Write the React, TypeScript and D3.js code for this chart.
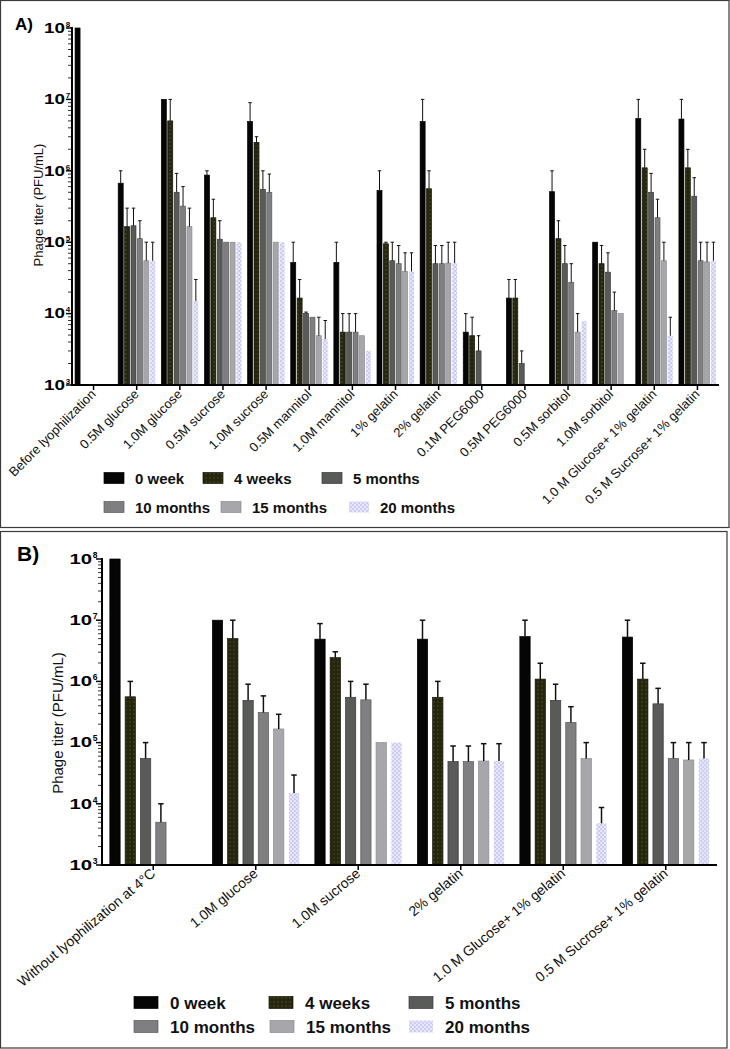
import React from 'react';
import * as d3 from 'd3';

// ---------------- DATA ----------------
const seriesNames = ['0 week', '4 weeks', '5 months', '10 months', '15 months', '20 months'];
const yTickExponents = [3, 4, 5, 6, 7, 8];

const categoriesA = [
  'Before lyophilization', '0.5M glucose', '1.0M glucose', '0.5M sucrose', '1.0M sucrose',
  '0.5M mannitol', '1.0M mannitol', '1% gelatin', '2% gelatin', '0.1M PEG6000', '0.5M PEG6000',
  '0.5M sorbitol', '1.0M sorbitol', '1.0 M Glucose+ 1% gelatin', '0.5 M Sucrose+ 1% gelatin',
];
// series values across categoriesA (PFU/mL); null = no bar
const week0A = [1e8, 6.7e5, 1e7, 8.7e5, 4.9e6, 5.2e4, 5.2e4, 5.3e5, 4.9e6, 5.5e3, 1.65e4, 5.1e5, 1e5, 5.4e6, 5.3e6];
const week4A = [null, 1.65e5, 5e6, 2.2e5, 2.5e6, 1.65e4, 5.5e3, 9.5e4, 5.6e5, 4.9e3, 1.65e4, 1.12e5, 5e4, 1.1e6, 1.1e6];
const month5A = [null, 1.7e5, 5e5, 1.1e5, 5.5e5, 1e4, 5.5e3, 5.5e4, 5e4, 3e3, 2e3, 5e4, 3.8e4, 5e5, 4.4e5];
const month10A = [null, 1.12e5, 3.2e5, 1e5, 5e5, 8.9e3, 5.5e3, 5e4, 5e4, null, null, 2.74e4, 1.1e4, 2.2e5, 5.5e4];
const month15A = [null, 5.5e4, 1.65e5, 1e5, 1e5, 4.9e3, 4.9e3, 3.9e4, 5.1e4, null, null, 5.5e3, 1e4, 5.5e4, 5.3e4];
const month20A = [null, 5.5e4, 1.5e4, 1e5, 1e5, 4.4e3, 3e3, 3.9e4, 5.1e4, null, null, 7.9e3, null, 4.9e3, 5.5e4];
// upper end of error bars
const week0ErrA = [null, 1e6, null, 1e6, 9e6, 1e5, 1e5, 1e6, 1e7, 1e4, 3e4, 1e6, null, 1e7, 1e7];
const week4ErrA = [null, 3e5, 1e7, 4e5, 3e6, 3e4, 1e4, 1e5, 1e6, 8.9e3, 3e4, 2e5, 9e4, 2e6, 2e6];
const month5ErrA = [null, 3e5, 9.2e5, 2e5, 1e6, 1.05e4, 1e4, 1e5, 9e4, 4.9e3, 3e3, 9e4, 7.1e4, 9.2e5, 8e5];
const month10ErrA = [null, 2e5, 6e5, null, 9e5, null, 1e4, 9e4, 9e4, null, null, 5e4, 2e4, 4e5, 1e5];
const month15ErrA = [null, 1e5, 3e5, null, null, 8.9e3, null, 7.1e4, 1e5, null, null, 1e4, null, 1e5, 1e5];
const month20ErrA = [null, 1e5, 3e4, null, null, 8e3, null, 7.1e4, 1e5, null, null, null, null, 8.9e3, 1e5];

const categoriesB = [
  'Without lyophilization at 4°C', '1.0M glucose', '1.0M sucrose', '2% gelatin',
  '1.0 M Glucose+ 1% gelatin', '0.5 M Sucrose+ 1% gelatin',
];
const week0B = [1e8, 1e7, 4.9e6, 4.9e6, 5.4e6, 5.3e6];
const week4B = [5.6e5, 5e6, 2.45e6, 5.5e5, 1.09e6, 1.09e6];
const month5B = [5.5e4, 4.9e5, 5.5e5, 4.9e4, 4.9e5, 4.3e5];
const month10B = [5e3, 3.1e5, 5e5, 4.9e4, 2.14e5, 5.5e4];
const month15B = [null, 1.67e5, 1e5, 5e4, 5.5e4, 5.2e4];
const month20B = [null, 1.5e4, 1e5, 5e4, 4.8e3, 5.5e4];
const week0ErrB = [null, null, 8.8e6, 1e7, 1e7, 1e7];
const week4ErrB = [1e6, 1e7, 3.05e6, 1e6, 1.98e6, 1.98e6];
const month5ErrB = [1e5, 9e5, 1e6, 8.8e4, 9e5, 7.7e5];
const month10ErrB = [1e4, 5.8e5, 9e5, 8.8e4, 3.86e5, 1e5];
const month15ErrB = [null, 2.9e5, null, 9.6e4, 1e5, 1e5];
const month20ErrB = [null, 2.95e4, null, 9.6e4, 8.7e3, 1e5];

// ---------------- STYLE ----------------
const fills = ['#050505', 'url(#pat4w)', '#595b59', '#7f7f81', '#a7a7ab', 'url(#pat20m)'];
const strokes = ['#000', '#141408', '#3b3b3b', '#5c5c5c', '#8d8d91', 'none'];

type Spec = {
  title: string; titleX: number; titleY: number; titleSize: number;
  categories: string[];
  values: (number | null)[][];
  errs: (number | null)[][];
  left: number; right: number; top: number; bottom: number;
  groupWidth: number; padInner: number; padOuter: number;
  capW: number; errW: number;
  labelSize: number; labelAngle: number;
  tickFont: number; tickScale: number; tickGap: number; supSize: number;
  yLabelX: number; yLabelY: number; yLabelSize: number;
  legendRows: number[][]; legendBaselines: number[]; legendBox: [number, number];
  legendTextOff: number; legendFont: number;
  frame: [number, number, number, number];
};

const specA: Spec = {
  title: 'A)', titleX: 15, titleY: 30, titleSize: 17,
  categories: categoriesA,
  values: [week0A, week4A, month5A, month10A, month15A, month20A],
  errs: [week0ErrA, week4ErrA, month5ErrA, month10ErrA, month15ErrA, month20ErrA],
  left: 72, right: 719, top: 28, bottom: 385,
  groupWidth: 38.4, padInner: 0.22, padOuter: 0.11,
  capW: 3.5, errW: 1,
  labelSize: 13, labelAngle: -45,
  tickFont: 14.5, tickScale: 1.3, tickGap: 7, supSize: 8,
  yLabelX: 43, yLabelY: 205, yLabelSize: 13,
  legendRows: [[104, 203, 322], [104, 221, 349]], legendBaselines: [483.5, 512.5], legendBox: [20, 11],
  legendTextOff: 31, legendFont: 15,
  frame: [0.5, 0.5, 729, 527.5],
};

const specB: Spec = {
  title: 'B)', titleX: 17, titleY: 561, titleSize: 21,
  categories: categoriesB,
  values: [week0B, week4B, month5B, month10B, month15B, month20B],
  errs: [week0ErrB, week4ErrB, month5ErrB, month10ErrB, month15ErrB, month20ErrB],
  left: 102, right: 717, top: 559, bottom: 865,
  groupWidth: 91.8, padInner: 0.327, padOuter: 0.163,
  capW: 5.5, errW: 1.5,
  labelSize: 14, labelAngle: -40,
  tickFont: 14.5, tickScale: 1.4, tickGap: 10, supSize: 8.5,
  yLabelX: 63, yLabelY: 723, yLabelSize: 15,
  legendRows: [[134, 269, 409], [134, 270, 409]], legendBaselines: [1008.5, 1032.5], legendBox: [24, 12],
  legendTextOff: 36, legendFont: 17,
  frame: [0.5, 531.5, 727, 1048],
};

function Panel({ s }: { s: Spec }) {
  const x0 = d3.scaleBand<string>().domain(s.categories).range([s.left, s.right]);
  const x1 = d3.scaleBand<number>().domain(d3.range(seriesNames.length))
    .range([-s.groupWidth / 2, s.groupWidth / 2]).paddingInner(s.padInner).paddingOuter(s.padOuter);
  const y = d3.scaleLog().domain([1e3, 1e8]).range([s.bottom, s.top]);
  const minors: number[] = [];
  for (let e = 3; e < 8; e++) for (let m = 2; m <= 9; m++) minors.push(m * Math.pow(10, e));
  const bw = x1.bandwidth();
  const [fx0, fy0, fx1, fy1] = s.frame;

  return (
    <g>
      <rect x={fx0} y={fy0} width={fx1 - fx0} height={fy1 - fy0} fill="none" stroke="#3a3a3a" strokeWidth={1.2} />
      <text x={s.titleX} y={s.titleY} fontFamily="Arial, Liberation Sans, sans-serif" fontWeight="bold" fontSize={s.titleSize}>{s.title}</text>

      {/* bars */}
      {s.categories.map((c, ci) => {
        const cx = (x0(c) as number) + x0.bandwidth() / 2;
        return (
          <g key={c}>
            {s.values.map((ser, si) => {
              const v = ser[ci];
              if (v == null) return null;
              const bx = cx + (x1(si) as number);
              const top = y(v);
              const err = s.errs[si][ci];
              return (
                <g key={si}>
                  <rect x={bx} y={top} width={bw} height={s.bottom - top} fill={fills[si]}
                    stroke={strokes[si]} strokeWidth={strokes[si] === 'none' ? 0 : 0.7} />
                  {err != null && (
                    <g stroke="#111" strokeWidth={s.errW}>
                      <line x1={bx + bw / 2} x2={bx + bw / 2} y1={top} y2={y(err)} />
                      <line x1={bx + bw / 2 - s.capW / 2} x2={bx + bw / 2 + s.capW / 2} y1={y(err)} y2={y(err)} />
                    </g>
                  )}
                </g>
              );
            })}
          </g>
        );
      })}

      {/* y axis */}
      <line x1={s.left} x2={s.left} y1={s.top - 1} y2={s.bottom} stroke="#000" strokeWidth={2} />
      {minors.map((m) => (
        <line key={m} x1={s.left - 4} x2={s.left} y1={y(m)} y2={y(m)} stroke="#000" strokeWidth={0.8} />
      ))}
      {yTickExponents.map((e) => {
        const ty = y(Math.pow(10, e));
        return (
          <g key={e}>
            <line x1={s.left - 6} x2={s.left} y1={ty} y2={ty} stroke="#000" strokeWidth={1.5} />
            <g transform={`translate(${s.left - s.tickGap},${ty})`} fontFamily="Arial, Liberation Sans, sans-serif" fontWeight="bold">
              <text x={0} y={4.8} textAnchor="end" fontSize={s.tickFont} transform={`scale(${s.tickScale},1)`}>10</text>
              <text x={0.8} y={-1.2} fontSize={s.supSize}>{e}</text>
            </g>
          </g>
        );
      })}
      <text transform={`translate(${s.yLabelX},${s.yLabelY}) rotate(-90)`} textAnchor="middle"
        fontFamily="Arial, Liberation Sans, sans-serif" fontSize={s.yLabelSize} fill="#111">Phage titer (PFU/mL)</text>

      {/* x axis */}
      <line x1={s.left - 1} x2={s.right} y1={s.bottom} y2={s.bottom} stroke="#000" strokeWidth={2} />
      {s.categories.map((c) => {
        const cx = (x0(c) as number) + x0.bandwidth() / 2;
        return (
          <g key={c}>
            <line x1={cx} x2={cx} y1={s.bottom} y2={s.bottom + 5} stroke="#000" strokeWidth={1.5} />
            <text transform={`translate(${cx + 3},${s.bottom + 10}) rotate(${s.labelAngle})`} textAnchor="end"
              fontFamily="Arial, Liberation Sans, sans-serif" fontSize={s.labelSize} fill="#111">{c}</text>
          </g>
        );
      })}

      {/* legend */}
      {seriesNames.map((n, i) => {
        const row = Math.floor(i / 3);
        const col = i % 3;
        const lx = s.legendRows[row][col];
        const base = s.legendBaselines[row];
        const [bwid, bh] = s.legendBox;
        return (
          <g key={n}>
            <rect x={lx} y={base - bh} width={bwid} height={bh} fill={fills[i]}
              stroke={strokes[i] === 'none' ? 'none' : strokes[i]} strokeWidth={0.7} />
            <text x={lx + s.legendTextOff} y={base} fontFamily="Arial, Liberation Sans, sans-serif"
              fontWeight="bold" fontSize={s.legendFont} fill="#111">{n}</text>
          </g>
        );
      })}
    </g>
  );
}

export default function App() {
  return (
    <svg width={730} height={1049} style={{ position: 'absolute', left: 0, top: 0, background: '#fff' }}>
      <defs>
        <pattern id="pat4w" width={4} height={4} patternUnits="userSpaceOnUse">
          <rect width={4} height={4} fill="#26260f" />
          <rect x={1.5} y={1.5} width={1} height={1} fill="#6a6a34" />
        </pattern>
        <pattern id="pat20m" width={4} height={4} patternUnits="userSpaceOnUse">
          <rect width={4} height={4} fill="#e6e6fb" />
          <rect x={0} y={0} width={2} height={2} fill="#cdcdf3" />
          <rect x={2} y={2} width={2} height={2} fill="#cdcdf3" />
        </pattern>
      </defs>
      <rect width={730} height={1049} fill="#fff" />
      <Panel s={specA} />
      <Panel s={specB} />
    </svg>
  );
}
